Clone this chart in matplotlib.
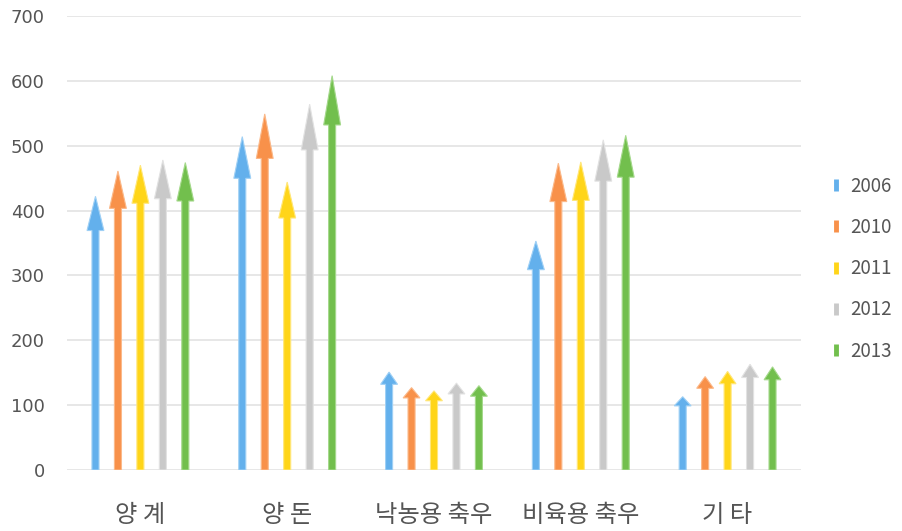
import matplotlib
matplotlib.use("Agg")
import matplotlib.pyplot as plt
from matplotlib.lines import Line2D

plt.rcParams['font.family'] = ['Noto Sans CJK KR', 'DejaVu Sans']

# data
categories = ["양 계", "양 돈", "낙농용 축우", "비육용 축우", "기 타"]
years = ["2006", "2010", "2011", "2012", "2013"]
v2006 = [422, 514, 151, 353, 113]
v2010 = [461, 549, 127, 473, 144]
v2011 = [470, 444, 122, 475, 152]
v2012 = [478, 564, 134, 509, 163]
v2013 = [474, 608, 130, 516, 159]
series = [v2006, v2010, v2011, v2012, v2013]
colors = ["#63b0ec", "#f8914a", "#ffd519", "#c9c9c9", "#72bf4d"]
edges = ["#9fd0f5", "#fbb98a", "#ffe77a", "#e2e2e2", "#a5d98c"]

fig = plt.figure(figsize=(9.03, 5.31), dpi=100)
ax = fig.add_axes([67 / 903, 1 - 470 / 531, (801 - 67) / 903, (470 - 16) / 531])

step = 0.153
for i, vals in enumerate(series):
    off = (i - 2) * step
    for j, v in enumerate(vals):
        ax.arrow(j + off, 0, 0, v, width=0.048, head_width=0.115,
                 head_length=v * 0.125, length_includes_head=True,
                 facecolor=colors[i], edgecolor=edges[i], linewidth=0.8,
                 zorder=3)

ax.set_xlim(-0.5, len(categories) - 0.5)
ax.set_ylim(0, 700)
ax.set_yticks(range(0, 701, 100))
ax.set_xticks(range(len(categories)))
ax.set_xticklabels(categories)
ax.grid(axis="y", color="#e3e3e3", linewidth=1.2, zorder=0)
for s in ax.spines.values():
    s.set_visible(False)
ax.tick_params(axis="y", length=0, pad=16, labelsize=13, labelcolor="#555555")
for t in ax.get_yticklabels():
    t.set_family("DejaVu Sans")
ax.tick_params(axis="x", length=0, pad=23, labelsize=17.5, labelcolor="#555555")

handles = [Line2D([0], [0], marker="|", linestyle="none", markersize=9,
                  markeredgewidth=3.5, color=c) for c in colors]
fig.legend(handles, years, loc="center left", bbox_to_anchor=(0.901, 0.494),
           frameon=False, fontsize=13.5, labelcolor="#555555",
           handlelength=0.6, handletextpad=0.45, labelspacing=1.08)

fig.savefig("out.png", dpi=100)
